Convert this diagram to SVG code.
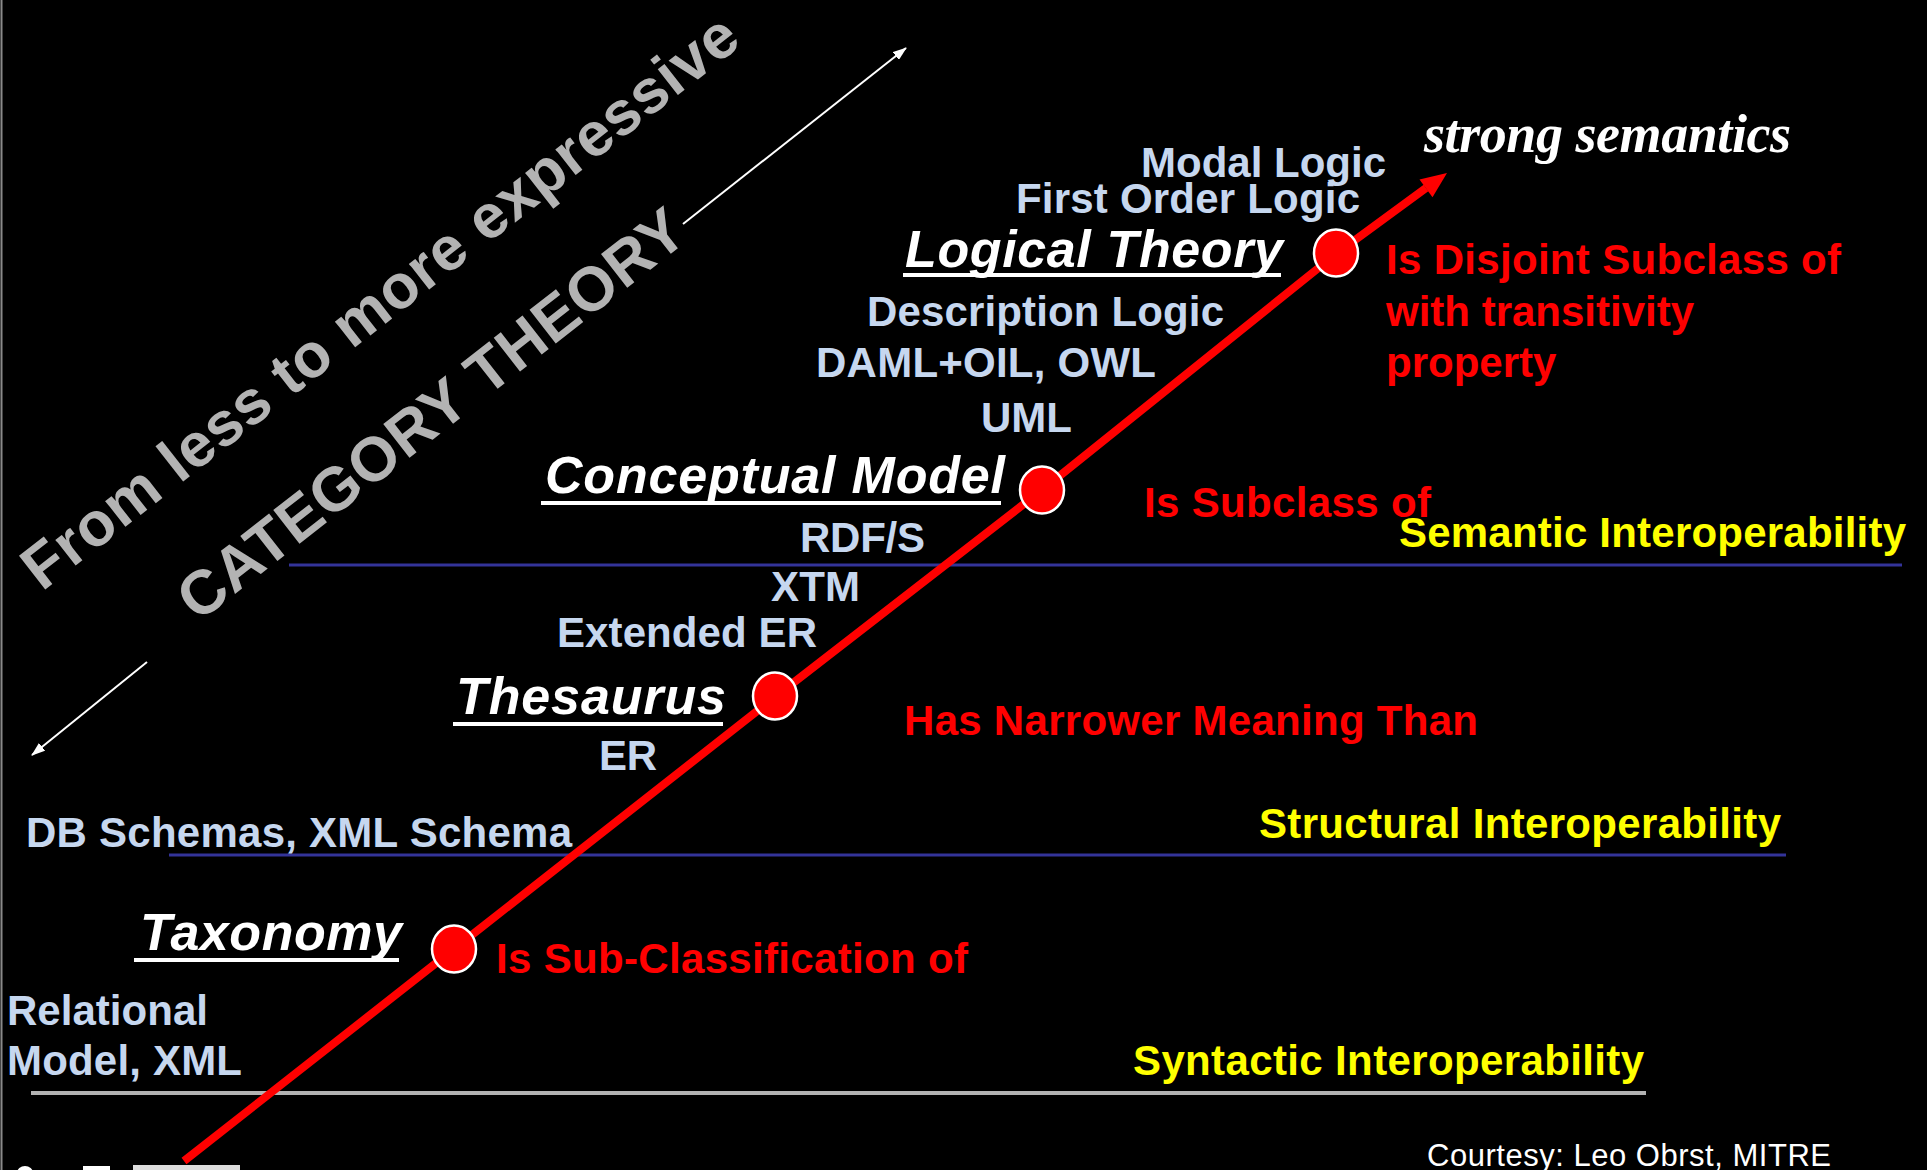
<svg xmlns="http://www.w3.org/2000/svg" width="1927" height="1170" viewBox="0 0 1927 1170">
<style>
  .lb { font-family: "Liberation Sans", Arial, sans-serif; font-weight: bold; font-size: 42px; fill: #C6D7EF; }
  .hd { font-family: "Liberation Sans", Arial, sans-serif; font-weight: bold; font-style: italic; font-size: 52px; fill: #FFFFFF; }
  .rel { font-family: "Liberation Sans", Arial, sans-serif; font-weight: bold; font-size: 42px; fill: #FF0000; }
  .lvl { font-family: "Liberation Sans", Arial, sans-serif; font-weight: bold; font-size: 42px; fill: #FFFF00; }
  .rot { font-family: "Liberation Sans", Arial, sans-serif; font-weight: bold; font-size: 62px; fill: #B3B3B3; }
  .ul { fill: #FFFFFF; }
  .node { fill: #FF0000; stroke: #FFFFFF; stroke-width: 2.5; }
</style>
<defs>
  <marker id="wa" viewBox="0 0 14 10" refX="13" refY="5" markerWidth="14" markerHeight="10" markerUnits="userSpaceOnUse" orient="auto">
    <path d="M0,0 L14,5 L0,10 Z" fill="#FFFFFF"/>
  </marker>
</defs>
<rect x="0" y="0" width="1927" height="1170" fill="#000000"/>
<line x1="1.5" y1="0" x2="1.5" y2="1170" stroke="#8A8A8A" stroke-width="2"/>

<g id="levels">
  <line x1="289" y1="565" x2="1902" y2="565" stroke="#333399" stroke-width="3"/>
  <line x1="169" y1="855" x2="1786" y2="855" stroke="#333399" stroke-width="3"/>
  <line x1="31" y1="1093" x2="1646" y2="1093" stroke="#B2B2B2" stroke-width="4"/>
</g>

<g id="rotated-labels">
  <text class="rot" transform="translate(42,592) rotate(-38)" textLength="890">From less to more expressive</text>
  <text class="rot" transform="translate(198,623) rotate(-38)" textLength="625">CATEGORY THEORY</text>
</g>

<g id="connectors">
  <line x1="683" y1="224" x2="906" y2="48" stroke="#FFFFFF" stroke-width="2" marker-end="url(#wa)"/>
  <line x1="147" y1="662" x2="32" y2="755" stroke="#FFFFFF" stroke-width="2" marker-end="url(#wa)"/>
  <polyline points="184,1161 454,949 775,697 1042,490 1336,254 1426,188" fill="none" stroke="#FF0000" stroke-width="8" stroke-linejoin="round"/>
  <polygon points="1447,173 1432.5,197.2 1419.5,179.4" fill="#FF0000"/>
</g>

<g id="node-taxonomy">
  <ellipse class="node" cx="454" cy="949" rx="22" ry="23.5"/>
  <text class="hd" x="140" y="950" textLength="262">Taxonomy</text>
  <rect class="ul" x="134" y="958" width="265" height="4"/>
</g>
<g id="node-thesaurus">
  <ellipse class="node" cx="775" cy="696" rx="22" ry="23.5"/>
  <text class="hd" x="456" y="714" textLength="270">Thesaurus</text>
  <rect class="ul" x="453" y="722" width="270" height="4"/>
</g>
<g id="node-conceptual">
  <ellipse class="node" cx="1042" cy="490" rx="22" ry="23.5"/>
  <text class="hd" x="545" y="493" textLength="460">Conceptual Model</text>
  <rect class="ul" x="541" y="501" width="460" height="4"/>
</g>
<g id="node-logical">
  <ellipse class="node" cx="1336" cy="253" rx="22" ry="23.5"/>
  <text class="hd" x="905" y="267" textLength="378">Logical Theory</text>
  <rect class="ul" x="903" y="273" width="378" height="4"/>
</g>

<g id="languages">
  <text class="lb" x="1141" y="177" textLength="245">Modal Logic</text>
  <text class="lb" x="1016" y="213" textLength="344">First Order Logic</text>
  <text class="lb" x="867" y="326" textLength="357">Description Logic</text>
  <text class="lb" x="816" y="377" textLength="340">DAML+OIL, OWL</text>
  <text class="lb" x="981" y="432" textLength="91">UML</text>
  <text class="lb" x="800" y="552" textLength="125">RDF/S</text>
  <text class="lb" x="771" y="601" textLength="89">XTM</text>
  <text class="lb" x="557" y="647" textLength="260">Extended ER</text>
  <text class="lb" x="599" y="770" textLength="58">ER</text>
  <text class="lb" x="26" y="847" textLength="546">DB Schemas, XML Schema</text>
  <text class="lb" x="7" y="1025" textLength="201">Relational</text>
  <text class="lb" x="7" y="1075" textLength="235">Model, XML</text>
</g>

<g id="relations">
  <text class="rel" x="1386" y="274" textLength="455">Is Disjoint Subclass of</text>
  <text class="rel" x="1386" y="326">with transitivity</text>
  <text class="rel" x="1386" y="377">property</text>
  <text class="rel" x="1144" y="517" textLength="287">Is Subclass of</text>
  <text class="rel" x="904" y="735" textLength="574">Has Narrower Meaning Than</text>
  <text class="rel" x="496" y="973" textLength="472">Is Sub-Classification of</text>
</g>

<g id="interoperability">
  <text class="lvl" x="1399" y="547" textLength="507">Semantic Interoperability</text>
  <text class="lvl" x="1259" y="838" textLength="522">Structural Interoperability</text>
  <text class="lvl" x="1133" y="1075" textLength="511">Syntactic Interoperability</text>
</g>

<g id="titles">
  <text x="1424" y="152" textLength="367" font-family="'Liberation Serif', 'Times New Roman', serif" font-weight="bold" font-style="italic" font-size="54" fill="#FFFFFF">strong semantics</text>
  <text x="1427" y="1166" textLength="404" font-family="'Liberation Sans', Arial, sans-serif" font-size="31" fill="#FFFFFF">Courtesy: Leo Obrst, MITRE</text>
</g>

<g id="logo">
  <ellipse cx="25" cy="1173" rx="8" ry="7" fill="#FFFFFF"/>
  <rect x="83" y="1166" width="27" height="4" fill="#FFFFFF"/>
  <rect x="133" y="1165" width="107" height="5" fill="#DDDDDD"/>
</g>
</svg>
